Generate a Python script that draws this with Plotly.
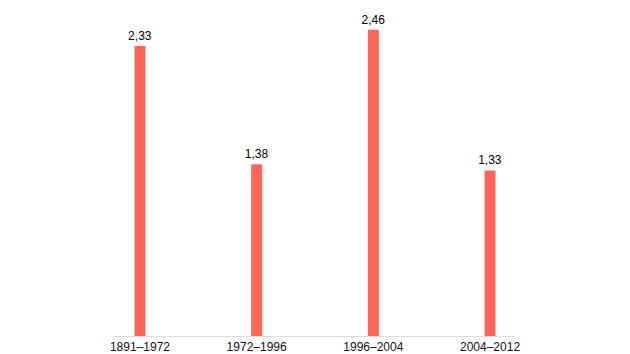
import plotly.graph_objects as go

categories = ["1891–1972", "1972–1996", "1996–2004", "2004–2012"]
values = [2.33, 1.38, 2.46, 1.33]
labels = [f"{v:.2f}".replace(".", ",") for v in values]

fig = go.Figure(go.Bar(
    x=list(range(len(categories))),
    y=values,
    width=0.094,
    marker=dict(color="#FF6459", line=dict(width=0)),
    text=labels,
    textposition="outside",
    constraintext="none",
    textfont=dict(family="Liberation Sans, Arial, sans-serif", size=12, color="#000000"),
    cliponaxis=False,
))

fig.update_layout(
    width=630, height=354,
    margin=dict(l=113, r=115, t=20, b=18, autoexpand=False),
    paper_bgcolor="white", plot_bgcolor="white",
    showlegend=False,
    font=dict(family="Liberation Sans, Arial, sans-serif", size=12, color="#000000"),
    xaxis=dict(
        tickmode="array",
        tickvals=list(range(len(categories))),
        ticktext=categories,
        range=[-0.231, 3.214],
        showgrid=False, zeroline=False,
        showline=True, linecolor="#DDDDDD", linewidth=1,
        ticks="", ticklen=0,
        automargin=False,
        tickfont=dict(size=12, color="#111111"),
    ),
    yaxis=dict(
        range=[0, 2.539],
        visible=False,
        showgrid=False, zeroline=False,
        automargin=False,
    ),
)

fig.write_html("out.html")
